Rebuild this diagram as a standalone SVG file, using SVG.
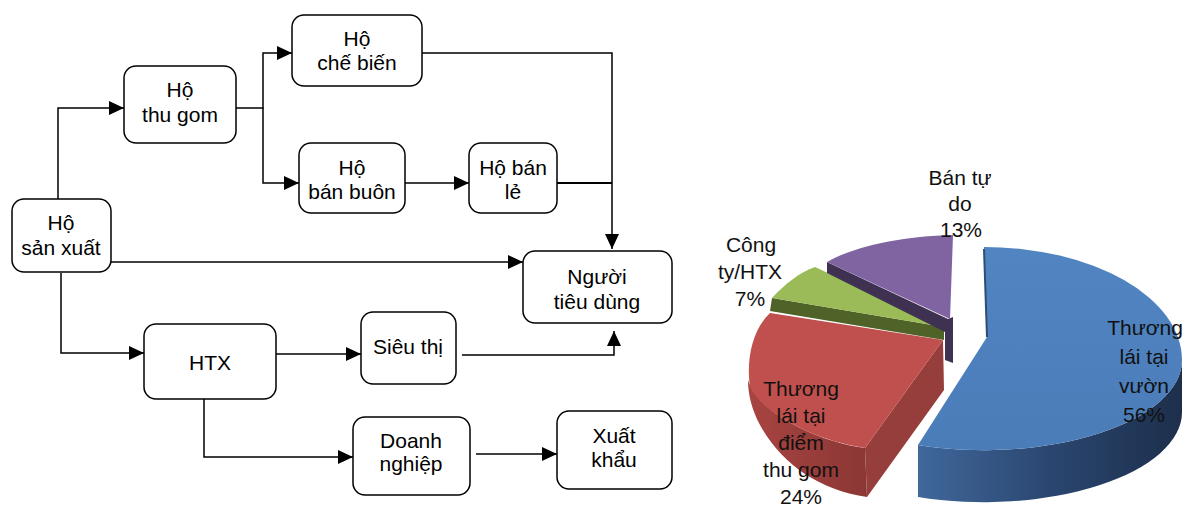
<svg xmlns="http://www.w3.org/2000/svg" width="1184" height="508" viewBox="0 0 1184 508">
<style>
.box{fill:#fff;stroke:#000;stroke-width:1.5}
.t{font-family:"Liberation Sans",Arial,sans-serif;font-size:21px;fill:#000;text-anchor:middle}
.c{fill:none;stroke:#000;stroke-width:1.5}
.p{font-family:"Liberation Sans",Arial,sans-serif;font-size:21px;fill:#111;text-anchor:middle}
</style>
<defs>
<marker id="ah" markerWidth="15" markerHeight="14" refX="15" refY="7" orient="auto" markerUnits="userSpaceOnUse">
<path d="M0,0 L15,7 L0,14 Z" fill="#000"/>
</marker>
<linearGradient id="bside" x1="918" y1="0" x2="1182" y2="0" gradientUnits="userSpaceOnUse">
<stop offset="0" stop-color="#40689B"/><stop offset="0.5" stop-color="#2A4670"/><stop offset="1" stop-color="#1D2F4B"/>
</linearGradient>
<linearGradient id="btop" x1="0" y1="247" x2="0" y2="450" gradientUnits="userSpaceOnUse">
<stop offset="0" stop-color="#5185C2"/><stop offset="1" stop-color="#4A7CB8"/>
</linearGradient>
<linearGradient id="rside" x1="748" y1="0" x2="867" y2="0" gradientUnits="userSpaceOnUse">
<stop offset="0" stop-color="#A84441"/><stop offset="1" stop-color="#8B3735"/>
</linearGradient>
</defs>

<g id="connectors">
<path class="c" d="M58,199 V108 H124" marker-end="url(#ah)"/>
<path class="c" d="M236,108 H263 V53 H292" marker-end="url(#ah)"/>
<path class="c" d="M263,108 V183 H299" marker-end="url(#ah)"/>
<path class="c" d="M405,183 H469" marker-end="url(#ah)"/>
<path class="c" d="M422,53 H612 V249" marker-end="url(#ah)"/>
<path class="c" d="M557,183 H612" style="stroke-width:2.2"/>
<path class="c" d="M111,262 H523" marker-end="url(#ah)"/>
<path class="c" d="M61,273 V353 H144" marker-end="url(#ah)"/>
<path class="c" d="M276,354 H361" marker-end="url(#ah)"/>
<path class="c" d="M462,355 H614 V331" marker-end="url(#ah)"/>
<path class="c" d="M204,399 V457 H353" marker-end="url(#ah)"/>
<path class="c" d="M476,454 H557" marker-end="url(#ah)"/>
</g>

<g id="n-hosanxuat"><rect class="box" x="12" y="199" width="99" height="73" rx="12"/><text class="t" x="61" y="230">Hộ</text><text class="t" x="61" y="255">sản xuất</text></g>
<g id="n-thugom"><rect class="box" x="124" y="66" width="112" height="77" rx="12"/><text class="t" x="180" y="97">Hộ</text><text class="t" x="180" y="122">thu gom</text></g>
<g id="n-chebien"><rect class="box" x="292" y="15" width="130" height="71" rx="12"/><text class="t" x="357" y="46">Hộ</text><text class="t" x="357" y="70">chế biến</text></g>
<g id="n-banbuon"><rect class="box" x="299" y="143" width="106" height="70" rx="12"/><text class="t" x="352" y="175">Hộ</text><text class="t" x="352" y="199">bán buôn</text></g>
<g id="n-banle"><rect class="box" x="469" y="143" width="88" height="70" rx="12"/><text class="t" x="513" y="175">Hộ bán</text><text class="t" x="513" y="199">lẻ</text></g>
<g id="n-nguoitieudung"><rect class="box" x="523" y="251" width="149" height="72" rx="12"/><text class="t" x="597" y="284">Người</text><text class="t" x="597" y="309">tiêu dùng</text></g>
<g id="n-htx"><rect class="box" x="144" y="324" width="132" height="75" rx="12"/><text class="t" x="210" y="370">HTX</text></g>
<g id="n-sieuthi"><rect class="box" x="361" y="312" width="95" height="72" rx="12"/><text class="t" x="408" y="354">Siêu thị</text></g>
<g id="n-doanhnghiep"><rect class="box" x="353" y="417" width="117" height="78" rx="12"/><text class="t" x="411" y="448">Doanh</text><text class="t" x="411" y="471">nghiệp</text></g>
<g id="n-xuatkhau"><rect class="box" x="557" y="411" width="115" height="78" rx="12"/><text class="t" x="614" y="443">Xuất</text><text class="t" x="614" y="467">khẩu</text></g>

<g id="pie">
<path d="M772,298 L944,327 L944,340 L770,311 Z" fill="#4F6228"/>
<path d="M944,327 L772,298 C785,284 800,272 815,267 Z" fill="#9BBB59"/>
<path d="M827,262 L948,319 L953,317 L953,363 L945,360 L945,332 L827,273 Z" fill="#3F3151"/>
<path d="M953,235 L950,319 L827,262 C850,248 900,236 953,235 Z" fill="#8064A2"/>
<path d="M865,448 L943,340 L944,390 L867,497 Z" fill="#963E3B"/>
<path d="M750,385 C760,410 810,440 865,448 L867,497 C820,490 782,465 760,425 C752,410 748,395 748,380 Z" fill="url(#rside)"/>
<path d="M943,340 L770,313 C752,330 746,360 750,387 C760,410 810,440 865,448 Z" fill="#C0504D"/>
<path d="M1182,360 A198 90 0 0 1 918,445 L918,497 A198 90 0 0 0 1182,412 Z" fill="url(#bside)"/>
<path d="M987,337 L984,247 A198 113 0 0 1 1182,360 A198 90 0 0 1 918,445 Z" fill="url(#btop)"/>
<path d="M984,249 L987,337" stroke="#2C4D75" stroke-width="2" fill="none"/>
</g>

<g id="pie-labels">
<text class="p" x="960" y="185">Bán tự</text><text class="p" x="960" y="211">do</text><text class="p" x="961" y="237">13%</text>
<text class="p" x="751" y="252">Công</text><text class="p" x="750" y="279">ty/HTX</text><text class="p" x="750" y="306">7%</text>
<text class="p" x="1145" y="335">Thương</text><text class="p" x="1144" y="364">lái tại</text><text class="p" x="1144" y="393">vườn</text><text class="p" x="1144" y="422">56%</text>
<text class="p" x="801" y="396">Thương</text><text class="p" x="801" y="423">lái tại</text><text class="p" x="801" y="450">điểm</text><text class="p" x="801" y="477">thu gom</text><text class="p" x="801" y="504">24%</text>
</g>
</svg>
